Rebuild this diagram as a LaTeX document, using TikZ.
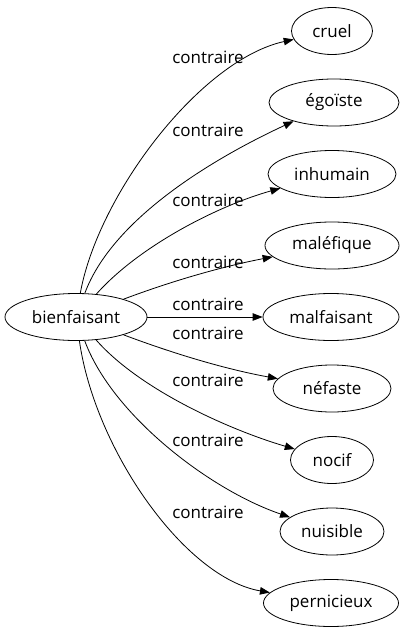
\documentclass[tikz,border=0pt]{standalone}
\usepackage{fontspec}
\setmainfont{Open Sans}
\usetikzlibrary{shapes.geometric,arrows.meta}
\tikzset{
  word/.style={draw, ellipse, line width=0.8pt, inner sep=0pt, minimum height=47pt, font=\fontsize{17}{19}\selectfont},
  lbl/.style={font=\fontsize{17}{19}\selectfont, inner sep=0pt},
  edge/.style={line width=0.8pt, -{Triangle[length=10pt,width=7.5pt]}}
}
\begin{document}
\begin{tikzpicture}[x=1pt,y=-1pt]
\useasboundingbox (0,0) rectangle (406,635);
\node[word, minimum width=142pt] (b) at (76,317) {bienfaisant};
\node[word, minimum width=81pt] (n1) at (332,31) {cruel};
\node[word, minimum width=130pt] (n2) at (334,102.5) {égoïste};
\node[word, minimum width=128pt] (n3) at (332,174) {inhumain};
\node[word, minimum width=134pt] (n4) at (332,245.5) {maléfique};
\node[word, minimum width=136pt] (n5) at (331,317) {malfaisant};
\node[word, minimum width=118pt] (n6) at (332,388.5) {néfaste};
\node[word, minimum width=83pt] (n7) at (332,460) {nocif};
\node[word, minimum width=104pt] (n8) at (332,531.5) {nuisible};
\node[word, minimum width=135pt] (n9) at (331,603) {pernicieux};

\draw[edge] (b) .. controls (98,195) and (200,60) .. (n1);
\draw[edge] (b) .. controls (112,220) and (210,160) .. (n2);
\draw[edge] (b) .. controls (140,245) and (220,205) .. (n3);
\draw[edge] (b) .. controls (180,278) and (230,265) .. (n4);
\draw[edge] (b) -- (n5);
\draw[edge] (b) .. controls (180,356) and (230,370) .. (n6);
\draw[edge] (b) .. controls (140,390) and (230,430) .. (n7);
\draw[edge] (b) .. controls (112,415) and (210,490) .. (n8);
\draw[edge] (b) .. controls (95,450) and (185,578) .. (n9);

\node[lbl] (l1) at (208,57) {contraire};
\node[lbl] (l2) at (208,130) {contraire};
\node[lbl] (l3) at (208,200) {contraire};
\node[lbl] (l4) at (208,262) {contraire};
\node[lbl] (l5) at (208,304) {contraire};
\node[lbl] (l6) at (208,333) {contraire};
\node[lbl] (l7) at (208,380) {contraire};
\node[lbl] (l8) at (208,440) {contraire};
\node[lbl] (l9) at (208,512) {contraire};
\end{tikzpicture}
\end{document}
